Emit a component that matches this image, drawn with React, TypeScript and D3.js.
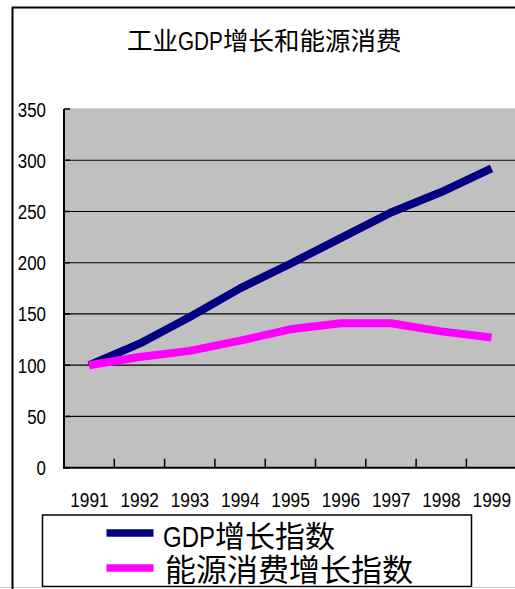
import React from "react";
import * as d3 from "d3";

// Index values (1991 = 100)
const years = ["1991", "1992", "1993", "1994", "1995", "1996", "1997", "1998", "1999"];
const gdpIndex = [100, 121, 147, 175, 199, 224, 249, 269, 292];
const energyIndex = [100, 108, 114, 124, 135, 141, 141, 133, 127];
const yTicks = [0, 50, 100, 150, 200, 250, 300, 350];

const titleText = "工业GDP增长和能源消费";
const seriesNames = ["GDP增长指数", "能源消费增长指数"];
const seriesColors = ["#000080", "#FF00FF"];

const W = 515;
const H = 589;

const plotLeft = 64;
const plotTop = 109;
const plotBottom = 467.7;
const bandStep = 50.3;

const CJK = "'Noto Sans CJK SC', sans-serif";
const LATIN = "'Liberation Sans', Arial, sans-serif";

// Lays a mixed CJK / Latin string out in one text element. Latin runs are
// condensed to a fixed fraction of the font size, CJK runs use a full em.
function MixedText({
  text,
  x,
  y,
  size,
  latinRatio,
}: {
  text: string;
  x: number;
  y: number;
  size: number;
  latinRatio: number;
}) {
  const parts = text.match(/[A-Za-z0-9]+|[^A-Za-z0-9]+/g) || [];
  let cursor = x;
  return (
    <text y={y} fontSize={size} fill="#000">
      {parts.map((p, i) => {
        const latin = /[A-Za-z0-9]/.test(p);
        const w = latin ? (p.length * latinRatio * size) / 3 : p.length * size;
        const el = (
          <tspan
            key={i}
            x={cursor}
            fontFamily={latin ? LATIN : CJK}
            textLength={latin ? w : undefined}
            lengthAdjust={latin ? "spacingAndGlyphs" : undefined}
          >
            {p}
          </tspan>
        );
        cursor += w;
        return el;
      })}
    </text>
  );
}

export default function App() {
  const x = d3
    .scaleBand<string>()
    .domain(years)
    .range([plotLeft, plotLeft + bandStep * years.length])
    .paddingInner(0)
    .paddingOuter(0);
  const y = d3.scaleLinear().domain([0, 350]).range([plotBottom, plotTop]);
  const cx = (d: string) => (x(d) as number) + x.bandwidth() / 2;

  const line = d3
    .line<number>()
    .x((_, i) => cx(years[i]))
    .y((v) => y(v));

  const plotRight = plotLeft + bandStep * years.length;
  const series = [gdpIndex, energyIndex];

  return (
    <svg
      width={W}
      height={H}
      style={{ position: "absolute", left: 0, top: 0, background: "#fff" }}
    >
      {/* chart frame */}
      <line x1={12} y1={7.5} x2={W} y2={7.5} stroke="#000" strokeWidth={2} />

      {/* title */}
      <MixedText text={titleText} x={127} y={50} size={25.5} latinRatio={1.76} />

      {/* plot area */}
      <rect x={plotLeft} y={plotTop} width={plotRight - plotLeft} height={plotBottom - plotTop} fill="#C0C0C0" />
      <line x1={plotLeft} y1={plotTop} x2={plotRight} y2={plotTop} stroke="#b0b0b0" strokeWidth={1} />

      {/* gridlines */}
      {yTicks
        .filter((t) => t > 0 && t < 350)
        .map((t) => (
          <line key={t} x1={plotLeft} x2={plotRight} y1={y(t)} y2={y(t)} stroke="#000" strokeWidth={1.2} />
        ))}

      {/* y axis */}
      <line x1={plotLeft} x2={plotLeft} y1={plotTop} y2={plotBottom + 1} stroke="#000" strokeWidth={2} />
      {yTicks.map((t) => {
        const label = String(t);
        return (
          <g key={t}>
            <line x1={plotLeft} x2={plotLeft + 6} y1={y(t)} y2={y(t)} stroke="#000" strokeWidth={1.5} />
            <text
              x={46 - label.length * 9.4}
              y={y(t) + 7.5}
              fontFamily={LATIN}
              fontSize={20}
              fill="#000"
              textLength={label.length * 9.4}
              lengthAdjust="spacingAndGlyphs"
            >
              {label}
            </text>
          </g>
        );
      })}

      {/* x axis */}
      <line x1={plotLeft - 1} x2={plotRight} y1={plotBottom} y2={plotBottom} stroke="#000" strokeWidth={2} />
      {years.slice(1).map((yr) => (
        <line
          key={yr}
          x1={x(yr) as number}
          x2={x(yr) as number}
          y1={plotBottom}
          y2={plotBottom - 9}
          stroke="#000"
          strokeWidth={1.5}
        />
      ))}
      {years.map((yr) => (
        <text
          key={yr}
          x={cx(yr) - 19}
          y={506.5}
          fontFamily={LATIN}
          fontSize={19.5}
          fill="#000"
          textLength={38.5}
          lengthAdjust="spacingAndGlyphs"
        >
          {yr}
        </text>
      ))}

      {/* series */}
      {series.map((vals, i) => (
        <path
          key={i}
          d={line(vals) || ""}
          fill="none"
          stroke={seriesColors[i]}
          strokeWidth={8}
          strokeLinejoin="bevel"
          strokeLinecap="butt"
        />
      ))}

      {/* legend */}
      <rect x={42.5} y={515} width={429} height={71.5} fill="#fff" stroke="#000" strokeWidth={1.5} />
      <line x1={0} x2={W} y1={587.5} y2={587.5} stroke="#c8c8c8" strokeWidth={1} />
      {seriesNames.map((name, i) => {
        const ly = i === 0 ? 533 : 568;
        return (
          <g key={name}>
            <line x1={106.5} x2={153.5} y1={ly} y2={ly} stroke={seriesColors[i]} strokeWidth={7.5} />
            <MixedText
              text={name}
              x={i === 0 ? 163 : 165}
              y={i === 0 ? 547 : 581}
              size={i === 0 ? 30 : 31}
              latinRatio={1.73}
            />
          </g>
        );
      })}

      {/* left edge of the frame, drawn last so it sits over the legend */}
      <line x1={12.5} y1={7} x2={12.5} y2={H} stroke="#000" strokeWidth={2} />
    </svg>
  );
}
